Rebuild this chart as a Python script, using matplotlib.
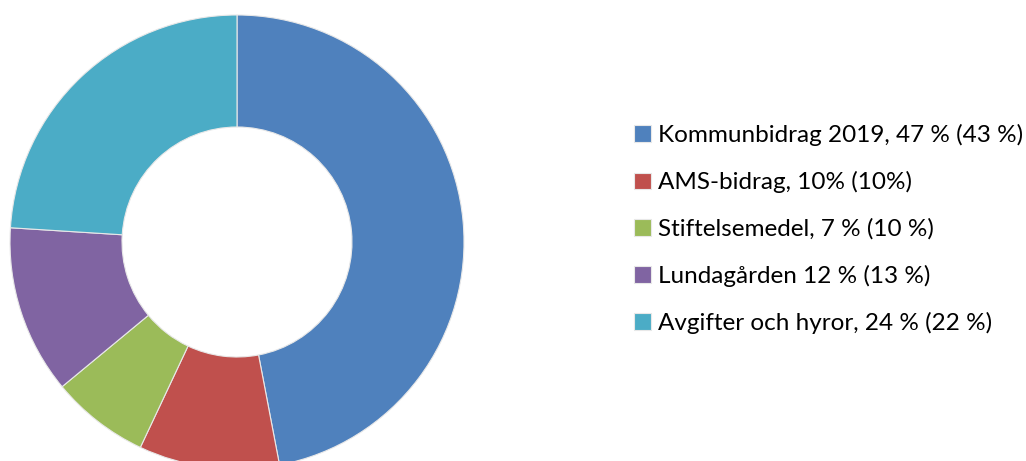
import matplotlib
matplotlib.use('Agg')
import matplotlib.pyplot as plt

labels = ['Kommunbidrag 2019, 47 % (43 %)', 'AMS-bidrag, 10% (10%)',
          'Stiftelsemedel, 7 % (10 %)', 'Lundagården 12 % (13 %)',
          'Avgifter och hyror, 24 % (22 %)']
values = [47, 10, 7, 12, 24]
colors = ['#4F81BD', '#C0504D', '#9BBB59', '#8064A2', '#4BACC6']

plt.rcParams['font.family'] = ['Lato', 'DejaVu Sans']

W, H = 1026, 461
fig = plt.figure(figsize=(W / 100, H / 100), dpi=100)
ax = fig.add_axes([0, 0, 1, 1])

# donut, center / radius in pixel units
wedges, _ = ax.pie(values, colors=colors, startangle=90, counterclock=False,
                   center=(237, H - 242), radius=227, frame=True,
                   wedgeprops=dict(width=112, edgecolor='#e8e8e8', linewidth=0.8))
ax.set_xlim(0, W)
ax.set_ylim(0, H)
ax.set_aspect('equal')
ax.axis('off')

fig.legend(wedges, labels, loc='upper left',
           bbox_to_anchor=(622 / W, 1 - 112 / H), frameon=False,
           fontsize=17.5, handlelength=0.68, handleheight=0.68,
           handletextpad=0.3, labelspacing=1.03, borderpad=0)

fig.savefig('out.png', dpi=100)
